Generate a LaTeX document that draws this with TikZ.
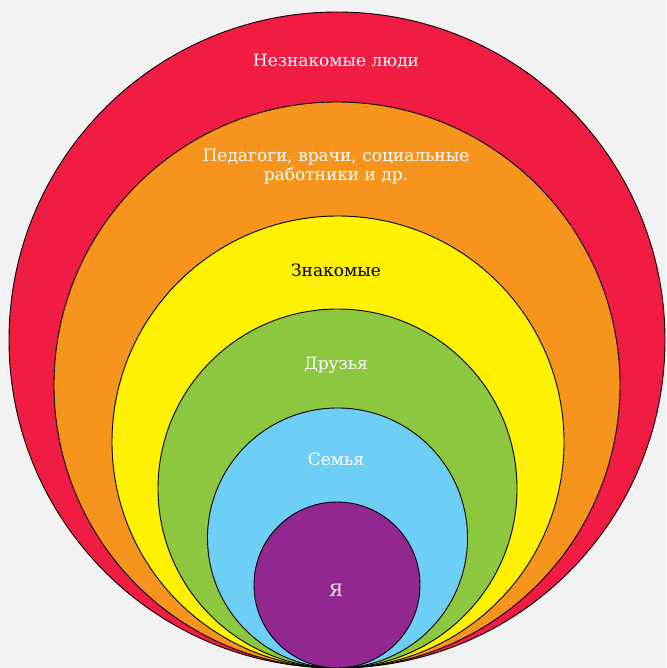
\documentclass[tikz,border=0pt]{standalone}
\usepackage{fontspec}
\setmainfont{DejaVu Serif}
\usetikzlibrary{positioning}
\definecolor{bgc}{HTML}{F2F2F2}
\definecolor{cred}{HTML}{F01C44}
\definecolor{corange}{HTML}{F7941D}
\definecolor{cyellow}{HTML}{FFF200}
\definecolor{cgreen}{HTML}{8DC63F}
\definecolor{cblue}{HTML}{6DCFF6}
\definecolor{cpurple}{HTML}{92278F}
\tikzset{
  ring/.style={circle,draw=black,line width=0.9pt,inner sep=0pt},
  lab/.style={font=\fontsize{17}{19}\selectfont,text=white,align=center,inner sep=0pt},
}
\begin{document}
\begin{tikzpicture}[x=1pt,y=-1pt]
\fill[bgc] (0,0) rectangle (666,668);
\useasboundingbox (0,0) rectangle (666,668);
% nested circles, all touching at the bottom
\node[ring,fill=cred,minimum size=656pt] (stranger) at (337,340) {};
\node[ring,fill=corange,minimum size=566pt] (staff) at (337,385) {};
\node[ring,fill=cyellow,minimum size=452pt] (known) at (338,442) {};
\node[ring,fill=cgreen,minimum size=359pt] (friends) at (337.5,488.5) {};
\node[ring,fill=cblue,minimum size=260pt] (family) at (337.5,538) {};
\node[ring,fill=cpurple,minimum size=166pt] (me) at (337,585) {};
% labels
\node[lab] (tstranger) at (336,61) {Незнакомые люди};
\node[lab] (tstaff) at (336,167) {Педагоги, врачи, социальные\\работники и др.};
\node[lab,text=black] (tknown) at (336,270) {Знакомые};
\node[lab] (tfriends) at (336,365) {Друзья};
\node[lab] (tfamily) at (336,459) {Семья};
\node[lab] (tme) at (336,590) {Я};
\end{tikzpicture}
\end{document}
